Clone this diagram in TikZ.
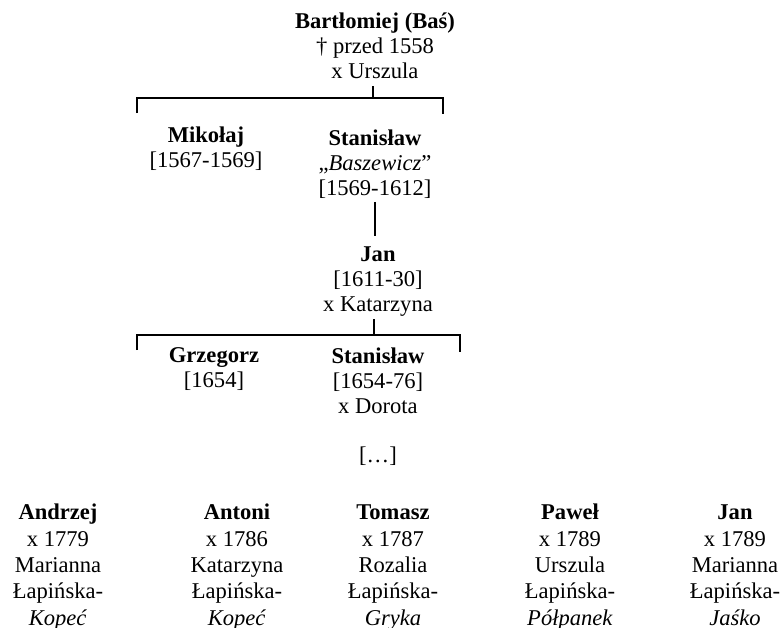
\documentclass[tikz,border=0pt]{standalone}
\usepackage{fontspec}
\setmainfont{Liberation Serif}
\usetikzlibrary{positioning}

\begin{document}
\begin{tikzpicture}[x=0.532pt,y=-0.532pt,line width=0.6pt,
  every node/.style={inner sep=1,outer sep=1,align=center,anchor=base,font=\fontsize{12}{13.3}\selectfont},
  heir/.style={font=\fontsize{12}{14}\selectfont}]
\useasboundingbox (0,0) rectangle (780,627);

% base = baseline of the last line
\node (0) at (375,78) {\textbf{Bartłomiej (Baś)}\\† przed 1558\\x Urszula};
\node (1) at (206,167) {\textbf{Mikołaj}\\{[1567-1569]}};
\node (2) at (375,195) {\textbf{Stanisław}\\„\textit{Baszewicz}”\\{[1569-1612]}};
\node (3) at (378,311) {\textbf{Jan}\\{[1611-30]}\\x Katarzyna};
\node (4) at (214,387) {\textbf{Grzegorz}\\{[1654]}};
\node (5) at (378,413) {\textbf{Stanisław}\\{[1654-76]}\\x Dorota};
\node (6) at (378,462) {[…]};

\node (7) [heir] at (58,625) {\textbf{Andrzej}\\x 1779\\Marianna\\Łapińska-\\\textit{Kopeć}};
\node (8) [heir] at (237,625) {\textbf{Antoni}\\x 1786\\Katarzyna\\Łapińska-\\\textit{Kopeć}};
\node (9) [heir] at (393,625) {\textbf{Tomasz}\\x 1787\\Rozalia\\Łapińska-\\\textit{Gryka}};
\node (10) [heir] at (570,625) {\textbf{Paweł}\\x 1789\\Urszula\\Łapińska-\\\textit{Półpanek}};
\node (11) [heir] at (735,625) {\textbf{Jan}\\x 1789\\Marianna\\Łapińska-\\\textit{Jaśko}};

\coordinate (0l) at (137,98);
\coordinate (0r) at (443,98);
\coordinate (3l) at (137,335);
\coordinate (3r) at (460,335);

\draw (373,86) -- (373,98);
\draw (0l) ++(0,15) -- (0l) -- (0r) -- ++(0,16);
\draw[shorten >=3.5pt] (2.south) -- (2.south |- 3.north);
\draw (374,319) -- (374,335);
\draw (3l) ++(0,15) -- (3l) -- (3r) -- ++(0,17);
\end{tikzpicture}
\end{document}
